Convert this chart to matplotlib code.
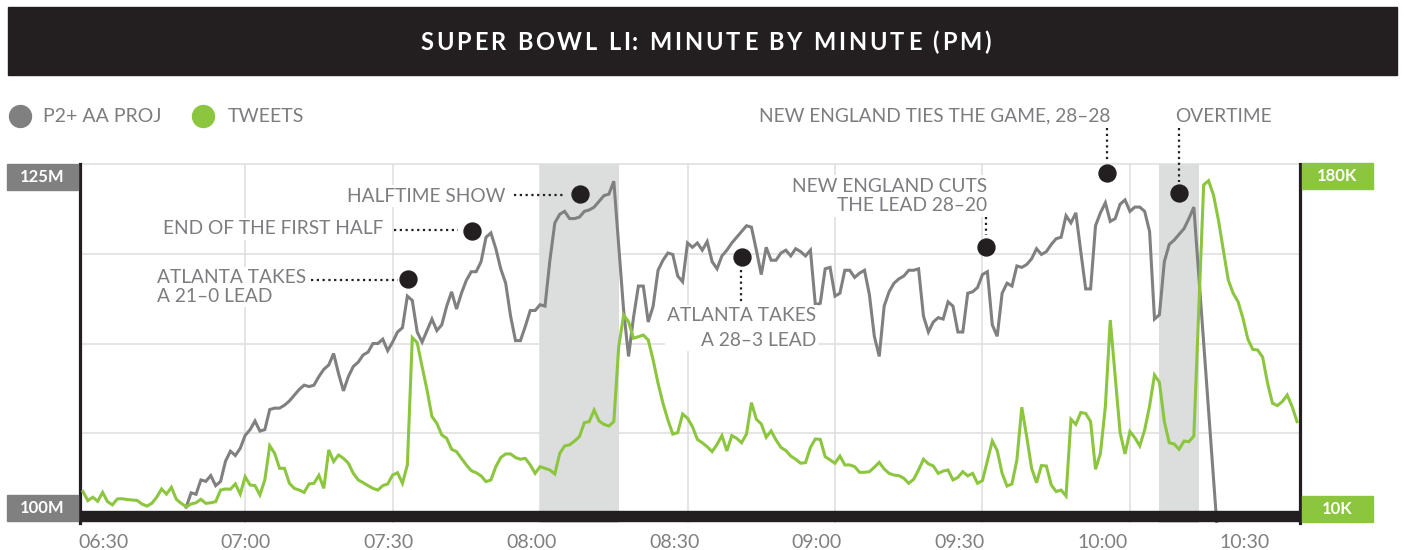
import numpy as np
import matplotlib
matplotlib.use("Agg")
import matplotlib.pyplot as plt
from matplotlib.patches import Rectangle
from matplotlib.lines import Line2D
from matplotlib import font_manager, ft2font

W, H = 1405, 550

# ---- data (minutes after 06:30, one value per minute) ----
tv_start = 18          # first TV minute (06:48)
tv_millions = [
    101.1, 102.1, 102.0, 103.0, 102.9, 103.3, 102.6, 102.9, 104.3, 105.0, 104.7, 105.2,
    106.1, 106.5, 107.1, 106.4, 106.5, 107.9, 108.0, 108.0, 108.2, 108.5,
    108.9, 109.3, 109.6, 109.5, 109.6, 110.2, 110.7, 111.0, 111.8, 110.4,
    109.2, 110.2, 110.9, 111.2, 111.7, 111.9, 112.5, 112.5, 112.8, 112.0,
    112.6, 113.3, 113.6, 115.8, 115.5, 113.3, 112.6, 113.4, 114.2, 113.4,
    113.8, 115.1, 116.1, 114.9, 116.0, 116.9, 117.5, 117.5, 118.2, 119.9,
    120.2, 119.1, 117.7, 116.7, 114.4, 112.7, 112.7, 113.7, 114.8, 114.8,
    115.2, 115.1, 118.3, 120.9, 121.5, 121.7, 121.2, 121.2, 121.3, 121.7,
    121.8, 122.0, 122.4, 122.8, 122.9, 123.8, 119.3, 114.8, 111.6, 114.3,
    116.5, 116.5, 114.0, 115.1, 117.6, 118.3, 118.8, 118.7, 117.2, 116.8,
    119.5, 119.2, 119.5, 119.0, 119.6, 118.2, 117.7, 118.6, 119.0, 119.5,
    119.9, 120.3, 120.7, 120.6, 119.0, 117.3, 119.2, 118.3, 118.3, 118.8,
    119.0, 118.6, 119.1, 118.9, 118.6, 119.0, 115.2, 115.3, 117.7, 117.8,
    115.8, 116.0, 117.6, 117.6, 117.1, 117.4, 117.6, 115.9, 113.0, 111.6,
    115.1, 116.1, 116.7, 117.0, 117.2, 117.6, 117.6, 117.7, 114.4, 113.3,
    114.0, 114.3, 114.2, 115.4, 115.1, 113.3, 113.3, 116.0, 116.1, 116.4,
    117.3, 117.5, 113.8, 113.0, 116.0, 116.7, 116.5, 117.9, 117.8, 118.0,
    118.4, 119.1, 118.7, 118.9, 119.4, 119.8, 119.9, 121.4, 120.9, 121.6,
    118.9, 116.3, 116.3, 120.7, 121.6, 122.3, 121.0, 121.2, 122.2, 122.5,
    121.7, 122.0, 122.0, 121.7, 120.3, 114.2, 114.5, 118.2, 119.4, 119.7,
    120.1, 120.5, 121.2, 122.0, 117.3, 112.6, 107.9, 103.1, 98.4,
]
tweet_start = -3       # first tweet minute (06:27)
tweets_k = [
    24.9, 20.6, 22.2, 20.3, 24.5, 20.1, 18.6, 21.4, 21.5, 21.1, 20.9, 20.7, 19.0,
    18.0, 19.3, 22.2, 26.1, 23.7, 26.9, 21.2, 19.3, 17.7, 19.0,
    19.6, 21.2, 19.3, 19.6, 20.1, 25.6, 26.1, 26.0, 28.5, 23.7,
    31.9, 28.0, 27.7, 23.3, 30.4, 46.6, 43.0, 35.9, 35.9, 28.8,
    26.4, 25.6, 24.5, 28.5, 28.8, 32.6, 26.4, 44.6, 39.1, 42.2,
    40.6, 38.3, 33.5, 30.4, 29.1, 27.7, 26.4, 25.6, 27.7, 28.5,
    32.7, 33.8, 28.8, 37.5, 97.8, 95.4, 84.0, 73.0, 60.4, 57.2,
    51.7, 50.1, 44.9, 43.8, 40.6, 37.5, 34.8, 33.8, 32.3, 29.6,
    30.4, 36.7, 41.0, 42.7, 42.7, 41.0, 40.2, 40.6, 37.5, 33.5,
    36.7, 35.9, 35.1, 33.2, 43.0, 46.5, 47.0, 48.8, 50.9, 57.5,
    58.0, 63.5, 58.3, 56.7, 55.9, 58.0, 93.5, 108.5, 105.3, 97.5,
    98.2, 99.0, 96.7, 87.2, 76.2, 66.7, 58.8, 52.1, 52.8, 61.6,
    59.6, 55.6, 49.6, 48.0, 46.1, 43.8, 47.2, 51.4, 44.1, 51.4,
    50.1, 48.0, 52.2, 67.0, 59.1, 56.9, 50.6, 53.6, 49.3, 45.8,
    44.3, 41.7, 40.2, 38.3, 38.6, 45.8, 49.8, 49.6, 41.4, 39.9,
    38.3, 41.7, 37.5, 37.5, 36.7, 34.0, 34.0, 34.3, 36.4, 38.7,
    35.6, 33.5, 32.7, 32.4, 31.2, 28.8, 30.7, 35.1, 40.2, 38.0,
    37.0, 33.5, 34.6, 35.1, 30.4, 31.6, 34.3, 32.3, 33.5, 28.8,
    30.1, 39.5, 48.8, 44.3, 33.5, 27.5, 28.5, 39.8, 64.8, 50.9,
    35.9, 29.1, 37.2, 37.0, 28.0, 24.9, 25.6, 22.8, 59.1, 56.7,
    62.3, 61.9, 58.0, 35.4, 43.0, 65.1, 106.1, 79.3, 52.8, 42.7,
    53.3, 50.4, 46.5, 54.1, 65.4, 80.1, 76.6, 58.0, 48.0, 47.4,
    44.9, 48.8, 48.5, 51.2, 110.9, 170.1, 172.1, 165.3, 153.5, 139.3,
    125.1, 118.8, 114.8, 106.9, 97.0, 92.2, 91.9, 88.5, 76.2, 66.7,
    65.6, 67.5, 70.6, 65.1, 58.0,
]

halftime = (90, 106)
overtime = (216, 224)

tick_minutes = [0, 30, 60, 90, 120, 150, 180, 210, 240]
tick_labels = ["06:30", "07:00", "07:30", "08:00", "08:30",
               "09:00", "09:30", "10:00", "10:30"]
grid_minutes = [30, 60, 90, 120, 150, 180, 210]
grid_values = [106.25, 112.5, 118.75, 125]

# (text, dot minute, dot value in M)
events = [
    ("ATLANTA TAKES\nA 21\u20130 LEAD", 63.2, 117.0),
    ("END OF THE FIRST HALF", 76.2, 120.3),
    ("HALFTIME SHOW", 98.1, 122.9),
    ("ATLANTA TAKES\nA 28\u20133 LEAD", 131.1, 118.5),
    ("NEW ENGLAND CUTS\nTHE LEAD 28\u201320", 180.7, 119.2),
    ("NEW ENGLAND TIES THE GAME, 28\u201328", 205.3, 124.4),
    ("OVERTIME", 220.0, 123.0),
]

GRAY = "#808080"
GREEN = "#8cc63f"
DARK = "#231f20"
TXT = "#7c7d80"
GRID = "#dedede"
SHADE = "#dcdedd"

plt.rcParams["font.family"] = ["Lato", "DejaVu Sans"]


def fx(px):
    return px / W


def fy(py):
    return 1 - py / H


def tracked_text(fig, s, cx, cy, size, track, color, weight="bold"):
    """draw letter-spaced text centred at pixel (cx, cy)"""
    prop = font_manager.FontProperties(family="Lato", weight=weight, size=size)
    f = ft2font.FT2Font(font_manager.findfont(prop), hinting_factor=1)
    f.set_size(size, 100)
    advs = [f.load_char(ord(c)).horiAdvance / 64 for c in s]
    total = sum(advs) + track * (len(s) - 1)
    base = cy + 0.7165 * size * 100 / 72 / 2
    x = cx - total / 2
    for c, a in zip(s, advs):
        fig.text(fx(x + a / 2), fy(base), c, fontproperties=prop, color=color,
                 ha="center", va="baseline")
        x += a + track


fig = plt.figure(figsize=(W / 100, H / 100), dpi=100)

# title bar
fig.add_artist(Rectangle((fx(8), fy(75)), fx(1389), 68 / H, transform=fig.transFigure,
                         color=DARK, zorder=1))
tracked_text(fig, "SUPER BOWL LI: MINUTE BY MINUTE (PM)", 706, 42, 17, 2.4, "white")

# legend
for cx, col, lab, tx in [(20, GRAY, "P2+ AA PROJ", 43), (203, GREEN, "TWEETS", 228)]:
    fig.add_artist(Line2D([fx(cx)], [fy(116)], marker="o", ms=15.8, color=col,
                          transform=fig.transFigure))
    fig.text(fx(tx), fy(116), lab, fontsize=14, color=TXT, ha="left", va="center")

# main axes
ax = fig.add_axes([fx(80), fy(523), (1300 - 80) / W, (523 - 164) / H])
ax2 = ax.twinx()
ax.set_xlim(-3.6, 244.6)
ax.set_ylim(100, 125)
ax2.set_ylim(10, 180)

for t in grid_minutes:
    ax.axvline(t, color=GRID, lw=1.1, zorder=0)
for v in grid_values:
    ax.axhline(v, color=GRID, lw=1.1, zorder=0, clip_on=False)
ax.axvspan(*halftime, color=SHADE, lw=0, zorder=1)
ax.axvspan(*overtime, color=SHADE, lw=0, zorder=1)

tv_x = np.arange(len(tv_millions)) + tv_start
tw_x = np.arange(len(tweets_k)) + tweet_start
ax.plot(tv_x, tv_millions, color=GRAY, lw=2.2, zorder=3, solid_joinstyle="miter")
ax2.plot(tw_x, tweets_k, color=GREEN, lw=2.2, zorder=3, solid_joinstyle="miter")

for s in ["top", "bottom", "right"]:
    ax.spines[s].set_visible(False)
for s in ["top", "bottom", "left"]:
    ax2.spines[s].set_visible(False)
ax.spines["left"].set_color(DARK)
ax.spines["left"].set_linewidth(2.3)
ax2.spines["right"].set_color(DARK)
ax2.spines["right"].set_linewidth(2.3)
ax.set_yticks([])
ax2.set_yticks([])

# the reference squeezes the time labels slightly relative to the grid
ax.set_xticks([1.1 + t * 0.968 for t in tick_minutes])
ax.set_xticklabels(tick_labels)
ax.tick_params(axis="x", length=0, pad=8, labelsize=14, labelcolor=GRAY)

# event dots
for _, t, v in events:
    ax.plot(t, v, "o", ms=12.2, color=DARK, zorder=6, clip_on=False)

# event labels and dotted leaders (pixel layout)
lab_kw = dict(fontsize=13.8, color=TXT, zorder=4,
              bbox=dict(fc="white", ec="none", pad=1.5))
fig.text(fx(157), fy(287), events[0][0], ha="left", va="center", linespacing=1.12, **lab_kw)
fig.text(fx(163), fy(229), events[1][0], ha="left", va="center", **lab_kw)
fig.text(fx(347), fy(196), events[2][0], ha="left", va="center", **lab_kw)
fig.text(fx(816), fy(328), events[3][0], ha="right", va="center", linespacing=1.62,
         multialignment="right", **lab_kw)
fig.text(fx(987), fy(196), events[4][0], ha="right", va="center", linespacing=1.2,
         multialignment="right", **lab_kw)
fig.text(fx(1110), fy(116), events[5][0], ha="right", va="center", **lab_kw)
fig.text(fx(1175), fy(116), events[6][0], ha="left", va="center", **lab_kw)

leaders = [((311, 280), (398, 280)), ((394, 230), (458, 230)), ((514, 195), (565, 195)),
           ((741, 270), (741, 302)), ((986, 217), (986, 235)), ((1107, 128), (1107, 161)),
           ((1179, 128), (1179, 182))]
for (x0, y0), (x1, y1) in leaders:
    fig.add_artist(Line2D([fx(x0), fx(x1)], [fy(y0), fy(y1)], color=DARK, lw=1.6,
                          linestyle=(0, (1, 1.6)), transform=fig.transFigure, zorder=5))

# bottom bar
fig.add_artist(Rectangle((fx(78), fy(521)), fx(1224), 10 / H, transform=fig.transFigure,
                         color=DARK, zorder=10))

# value boxes
boxes = [(7, 164, "125M", GRAY), (7, 495, "100M", GRAY),
         (1302, 163, "180K", GREEN), (1302, 496, "10K", GREEN)]
for x0, y0, lab, col in boxes:
    fig.add_artist(Rectangle((fx(x0), fy(y0 + 26)), 71 / W, 26 / H,
                             transform=fig.transFigure, color=col, zorder=10))
    fig.text(fx(x0 + 35.5), fy(y0 + 13), lab, fontsize=12, fontweight="bold",
             color="white", ha="center", va="center", zorder=11)

fig.savefig("out.png", dpi=100)
